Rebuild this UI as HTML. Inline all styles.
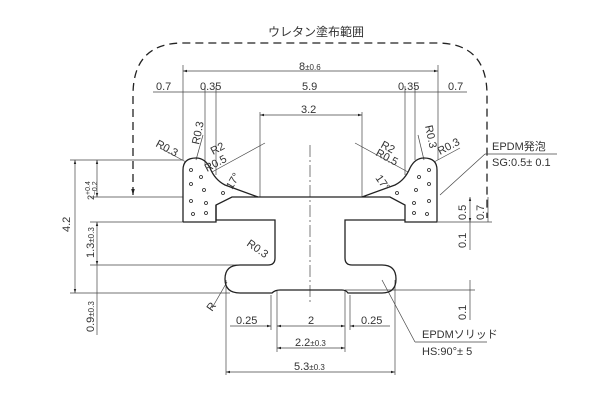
<!DOCTYPE html>
<html><head><meta charset="utf-8"><style>html,body{margin:0;padding:0;background:#fff}svg{display:block}</style></head><body>
<svg width="600" height="400" viewBox="0 0 600 400" xmlns="http://www.w3.org/2000/svg" font-family="Liberation Sans, Noto Sans CJK JP, sans-serif" font-size="11" fill="none" stroke="#222" stroke-width="1">
<defs><marker id="a" viewBox="0 0 10 10" refX="10" refY="5" markerWidth="6" markerHeight="6" orient="auto-start-reverse"><path d="M0,2L10,5L0,8z" fill="#222" stroke="none"/></marker></defs>
<text x="268" y="36" fill="#333" stroke="none" font-size="12">ウレタン塗布範囲</text>
<path d="M133,195 V95 Q133,43 183,43 H437 Q487,43 487,95 V218" stroke-dasharray="8,5" stroke-width="1.3"/>
<path d="M133,190 V195" marker-end="url(#a)"/>
<g stroke-width="0.7" stroke="#444">
<line x1="183" y1="71" x2="438" y2="71" marker-start="url(#a)" marker-end="url(#a)"/>
<line x1="153" y1="92" x2="467" y2="92"/>
<line x1="183" y1="65" x2="183" y2="160"/><line x1="438" y1="65" x2="438" y2="160"/>
<line x1="205" y1="86" x2="205" y2="165"/><line x1="216" y1="86" x2="216" y2="175"/>
<line x1="405" y1="86" x2="405" y2="175"/><line x1="415" y1="86" x2="415" y2="160"/>
<line x1="260" y1="115" x2="362" y2="115" marker-start="url(#a)" marker-end="url(#a)"/>
<line x1="260" y1="112" x2="260" y2="197"/><line x1="362" y1="112" x2="362" y2="197"/>
<line x1="310" y1="145" x2="310" y2="305" stroke-dasharray="12,3,2,3"/>
<line x1="70" y1="160" x2="183" y2="160"/><line x1="90" y1="197" x2="183" y2="197"/>
<line x1="90" y1="222" x2="183" y2="222"/><line x1="90" y1="265" x2="240" y2="265"/><line x1="70" y1="293" x2="230" y2="293"/>
<line x1="75" y1="160" x2="75" y2="293" marker-start="url(#a)" marker-end="url(#a)"/>
<line x1="97" y1="160" x2="97" y2="197" marker-start="url(#a)" marker-end="url(#a)"/>
<line x1="97" y1="222" x2="97" y2="265" marker-start="url(#a)" marker-end="url(#a)"/>
<line x1="97" y1="265" x2="97" y2="335"/>
<line x1="438" y1="222" x2="492" y2="222"/><line x1="345" y1="290" x2="475" y2="290"/>
<line x1="470" y1="197" x2="470" y2="222" marker-start="url(#a)" marker-end="url(#a)"/>
<line x1="488" y1="197" x2="488" y2="222"/>
<line x1="470" y1="222" x2="470" y2="250"/><line x1="470" y1="280" x2="470" y2="320"/>
<line x1="271" y1="295" x2="271" y2="330"/><line x1="277" y1="290" x2="277" y2="352"/>
<line x1="345" y1="290" x2="345" y2="352"/><line x1="350" y1="295" x2="350" y2="330"/>
<line x1="226" y1="280" x2="226" y2="375"/><line x1="395" y1="280" x2="395" y2="375"/>
<line x1="230" y1="326" x2="271" y2="326" marker-end="url(#a)"/><line x1="277" y1="326" x2="345" y2="326" marker-start="url(#a)" marker-end="url(#a)"/><line x1="350" y1="326" x2="390" y2="326" marker-start="url(#a)"/>
<line x1="277" y1="348" x2="345" y2="348" marker-start="url(#a)" marker-end="url(#a)"/>
<line x1="226" y1="372" x2="395" y2="372" marker-start="url(#a)" marker-end="url(#a)"/>
<line x1="485" y1="154" x2="557" y2="154"/><line x1="485" y1="154" x2="440" y2="195"/>
<line x1="415" y1="342" x2="487" y2="342"/><line x1="415" y1="342" x2="382" y2="280"/>
<line x1="160" y1="148" x2="186" y2="162"/><line x1="203" y1="135" x2="196" y2="160"/>
<line x1="212" y1="172" x2="265" y2="143"/><line x1="355" y1="143" x2="408" y2="172"/>
<line x1="418" y1="135" x2="424" y2="160"/><line x1="460" y1="148" x2="434" y2="162"/>
<line x1="227" y1="282" x2="212" y2="308"/>
</g>
<g stroke-width="1.3">
<path d="M183,222 V170 Q183,158 196,158 Q205,158 210,168 Q215,180 225,185 L258,197 H362 L395,185 Q405,180 410,168 Q415,158 424,158 Q437,158 437,170 V222 H405 V205 L390,197 H362"/>
<path d="M183,222 H216 V205 L232,197 H258"/>
<path d="M216,205 V220 H275 V258 Q275,265 268,265 H240 Q225,265 225,279 Q225,293 240,293 H272 Q275,290 280,290 H342 Q346,290 348,293 H382 Q396,293 396,279 Q396,265 382,265 H352 Q345,265 345,258 V220 H405"/>
</g>
<g fill="none" stroke-width="0.8">
<circle cx="191" cy="170" r="1.5"/><circle cx="201" cy="177" r="1.5"/><circle cx="191" cy="184" r="1.5"/><circle cx="204" cy="190" r="1.5"/><circle cx="191" cy="201" r="1.5"/><circle cx="206" cy="203" r="1.5"/><circle cx="193" cy="214" r="1.5"/><circle cx="206" cy="213" r="1.5"/><circle cx="223" cy="193" r="1.5"/>
<circle cx="429" cy="170" r="1.5"/><circle cx="419" cy="177" r="1.5"/><circle cx="429" cy="184" r="1.5"/><circle cx="416" cy="190" r="1.5"/><circle cx="429" cy="201" r="1.5"/><circle cx="414" cy="203" r="1.5"/><circle cx="427" cy="214" r="1.5"/><circle cx="414" cy="213" r="1.5"/><circle cx="397" cy="193" r="1.5"/>
</g>
<g fill="#333" stroke="none">
<text x="299" y="70">8<tspan font-size="8">±0.6</tspan></text>
<text x="156" y="90">0.7</text><text x="200" y="90">0.35</text><text x="302" y="90">5.9</text><text x="398" y="90">0.35</text><text x="448" y="90">0.7</text>
<text x="301" y="113">3.2</text>
<text x="155" y="146" transform="rotate(28 155 146)">R0.3</text>
<text x="199" y="145" transform="rotate(-78 199 145)">R0.3</text>
<text x="213" y="155" transform="rotate(-28 213 155)">R2</text>
<text x="207" y="172" transform="rotate(-28 207 172)">R0.5</text>
<text x="232" y="190" transform="rotate(-60 232 190)">17°</text>
<text x="380" y="147" transform="rotate(28 380 147)">R2</text>
<text x="375" y="155" transform="rotate(28 375 155)">R0.5</text>
<text x="425" y="126" transform="rotate(78 425 126)">R0.3</text>
<text x="440" y="155" transform="rotate(-28 440 155)">R0.3</text>
<text x="375" y="178" transform="rotate(55 375 178)">17°</text>
<text x="492" y="150">EPDM発泡</text><text x="492" y="166">SG:0.5± 0.1</text>
<text x="70" y="232" transform="rotate(-90 70 232)">4.2</text>
<text x="94" y="200" transform="rotate(-90 94 200)" font-size="9">2<tspan dy="-4" font-size="7">+0.4</tspan><tspan dx="-14" dy="7" font-size="7">−0.2</tspan></text>
<text x="94" y="258" transform="rotate(-90 94 258)">1.3<tspan font-size="8">±0.3</tspan></text>
<text x="94" y="332" transform="rotate(-90 94 332)">0.9<tspan font-size="8">±0.3</tspan></text>
<text x="246" y="245" transform="rotate(35 246 245)">R0.3</text>
<text x="212" y="312" transform="rotate(-55 212 312)">R</text>
<text x="466" y="220" transform="rotate(-90 466 220)">0.5</text>
<text x="484" y="220" transform="rotate(-90 484 220)">0.7</text>
<text x="466" y="248" transform="rotate(-90 466 248)">0.1</text>
<text x="466" y="320" transform="rotate(-90 466 320)">0.1</text>
<text x="236" y="324">0.25</text><text x="308" y="324">2</text><text x="361" y="324">0.25</text>
<text x="295" y="346">2.2<tspan font-size="8">±0.3</tspan></text>
<text x="294" y="370">5.3<tspan font-size="8">±0.3</tspan></text>
<text x="422" y="338">EPDMソリッド</text><text x="422" y="355">HS:90°± 5</text>
</g>
</svg>
</body></html>
